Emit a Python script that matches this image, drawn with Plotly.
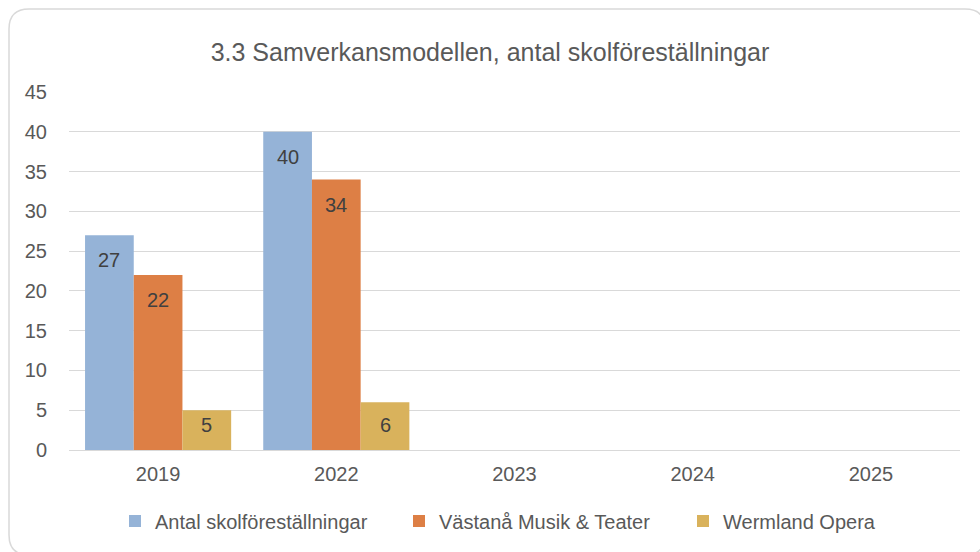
import plotly.graph_objects as go

# ---- data ----
categories = ["2019", "2022", "2023", "2024", "2025"]
antal_skolforestallningar = [27, 40, None, None, None]
vastana_musik_teater = [22, 34, None, None, None]
wermland_opera = [5, 6, None, None, None]
series_names = ["Antal skolföreställningar", "Västanå Musik & Teater", "Wermland Opera"]
y_tick_values = [0, 5, 10, 15, 20, 25, 30, 35, 40, 45]
title_text = "3.3 Samverkansmodellen, antal skolföreställningar"

# ---- style ----
colors = ["#95B3D7", "#DD7F45", "#D9B25C"]
W, H = 980, 552
L, R, T, B = 69, 20, 92, 102
PW, PH = W - L - R, H - T - B
BARGAP = 0.18
FONT = "Liberation Sans, Arial, sans-serif"

series_values = [antal_skolforestallningar, vastana_musik_teater, wermland_opera]

fig = go.Figure()
for name, vals, col in zip(series_names, series_values, colors):
    fig.add_trace(go.Bar(
        x=categories, y=vals, name=name,
        marker=dict(color=col, line=dict(width=0)),
        hoverinfo="x+y+name",
    ))

# data labels (inside end)
ymax = max(y_tick_values)
cat_px = PW / len(categories)
bar_px = cat_px * (1 - BARGAP) / len(series_values)
annotations = []
for k, vals in enumerate(series_values):
    for i, v in enumerate(vals):
        if v is None:
            continue
        h = v * PH / ymax
        annotations.append(dict(
            x=i, y=v, xref="x", yref="y",
            xshift=(k - (len(series_values) - 1) / 2) * bar_px,
            yshift=-min(25, h - 25),
            text=str(v), showarrow=False, yanchor="middle", xanchor="center",
            font=dict(family=FONT, size=20, color="#404040"),
        ))

# rounded border (paper coordinates from pixels)
def px(x):
    return (x - L) / PW

def py(y):
    return (H - B - y) / PH

x0, y0, x1, y1, r = 9, 9, 985, 555, 20
path = (
    f"M {px(x0 + r)} {py(y0)} L {px(x1 - r)} {py(y0)} "
    f"Q {px(x1)} {py(y0)} {px(x1)} {py(y0 + r)} "
    f"L {px(x1)} {py(y1 - r)} Q {px(x1)} {py(y1)} {px(x1 - r)} {py(y1)} "
    f"L {px(x0 + r)} {py(y1)} Q {px(x0)} {py(y1)} {px(x0)} {py(y1 - r)} "
    f"L {px(x0)} {py(y0 + r)} Q {px(x0)} {py(y0)} {px(x0 + r)} {py(y0)} Z"
)

fig.update_layout(
    width=W, height=H, autosize=False,
    margin=dict(l=L, r=R, t=T, b=B, pad=0),
    paper_bgcolor="white", plot_bgcolor="white",
    font=dict(family=FONT, size=20, color="#595959"),
    barmode="group", bargap=BARGAP, bargroupgap=0,
    title=dict(text=title_text, x=0.5, xref="container", xanchor="center",
               y=1 - 52 / H, yref="container", yanchor="middle",
               font=dict(family=FONT, size=25, color="#595959")),
    xaxis=dict(type="category", categoryorder="array", categoryarray=categories,
               range=[-0.5, len(categories) - 0.5],
               showgrid=False, showline=True, linecolor="#D9D9D9", linewidth=1,
               ticks="", ticklabelstandoff=6,
               tickfont=dict(family=FONT, size=20, color="#595959")),
    yaxis=dict(range=[0, ymax], tickvals=y_tick_values, showgrid=True,
               gridcolor="#D9D9D9", gridwidth=1, zeroline=False, showline=False,
               ticks="", ticklabelstandoff=21,
               tickfont=dict(family=FONT, size=20, color="#595959")),
    legend=dict(orientation="h", x=px(115), xanchor="left", y=py(521), yanchor="middle",
                entrywidth=239, entrywidthmode="pixels", itemwidth=30,
                font=dict(family=FONT, size=20, color="#595959"),
                bgcolor="rgba(0,0,0,0)", itemclick=False),
    annotations=annotations,
    shapes=[dict(type="path", xref="paper", yref="paper", path=path,
                 line=dict(color="#D9D9D9", width=1.5), fillcolor="rgba(0,0,0,0)",
                 layer="below")],
)

fig.write_html("out.html", config={"displayModeBar": False},
               post_script="document.body.style.margin='0';")
